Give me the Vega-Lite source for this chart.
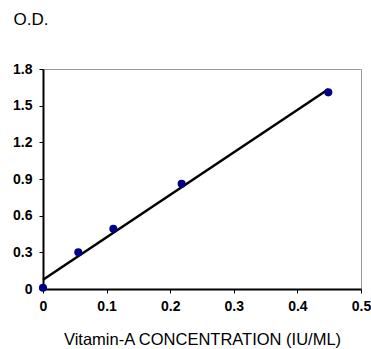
{
  "$schema": "https://vega.github.io/schema/vega-lite/v6.json",
  "width": 318,
  "height": 220,
  "autosize": "none",
  "padding": {"left": 43, "top": 69, "right": 10, "bottom": 60},
  "background": "white",
  "config": {
    "font": "Liberation Sans",
    "view": {"stroke": "#999999", "strokeWidth": 1}
  },
  "data": {
    "values": [
      {"conc": 0.0, "od": 0.01},
      {"conc": 0.0555, "od": 0.30},
      {"conc": 0.1106, "od": 0.493},
      {"conc": 0.218, "od": 0.861},
      {"conc": 0.4486, "od": 1.609}
    ]
  },
  "encoding": {
    "x": {
      "field": "conc",
      "type": "quantitative",
      "scale": {"domain": [0, 0.5], "nice": false, "zero": true},
      "axis": {
        "values": [0, 0.1, 0.2, 0.3, 0.4, 0.5],
        "format": "~g",
        "grid": false,
        "domainColor": "black",
        "domainWidth": 2,
        "tickColor": "black",
        "tickSize": 4,
        "labelFont": "Liberation Sans",
        "labelFontWeight": "bold",
        "labelFontSize": 14,
        "labelColor": "black",
        "labelPadding": 6,
        "labelFlush": false,
        "labelOverlap": false,
        "title": "Vitamin-A CONCENTRATION (IU/ML)",
        "titleFont": "Liberation Sans",
        "titleFontWeight": "normal",
        "titleFontSize": 16.5,
        "titleColor": "black",
        "titlePadding": 18
      }
    },
    "y": {
      "field": "od",
      "type": "quantitative",
      "scale": {"domain": [0, 1.8], "nice": false},
      "axis": {
        "values": [0, 0.3, 0.6, 0.9, 1.2, 1.5, 1.8],
        "format": "~g",
        "grid": false,
        "domainColor": "black",
        "domainWidth": 2,
        "tickColor": "black",
        "tickSize": 4,
        "labelFont": "Liberation Sans",
        "labelFontWeight": "bold",
        "labelFontSize": 14,
        "labelColor": "black",
        "labelPadding": 7,
        "labelFlush": false,
        "labelOverlap": false,
        "title": "O.D.",
        "titleFont": "Liberation Sans",
        "titleFontWeight": "normal",
        "titleFontSize": 17,
        "titleColor": "black",
        "titleAngle": 0,
        "titleAlign": "left",
        "titleBaseline": "alphabetic",
        "titleX": -30,
        "titleY": -45
      }
    }
  },
  "layer": [
    {
      "transform": [{"regression": "od", "on": "conc"}],
      "mark": {"type": "line", "color": "black", "strokeWidth": 2.5}
    },
    {
      "mark": {"type": "circle", "color": "#00008B", "opacity": 1, "size": 65}
    }
  ]
}
